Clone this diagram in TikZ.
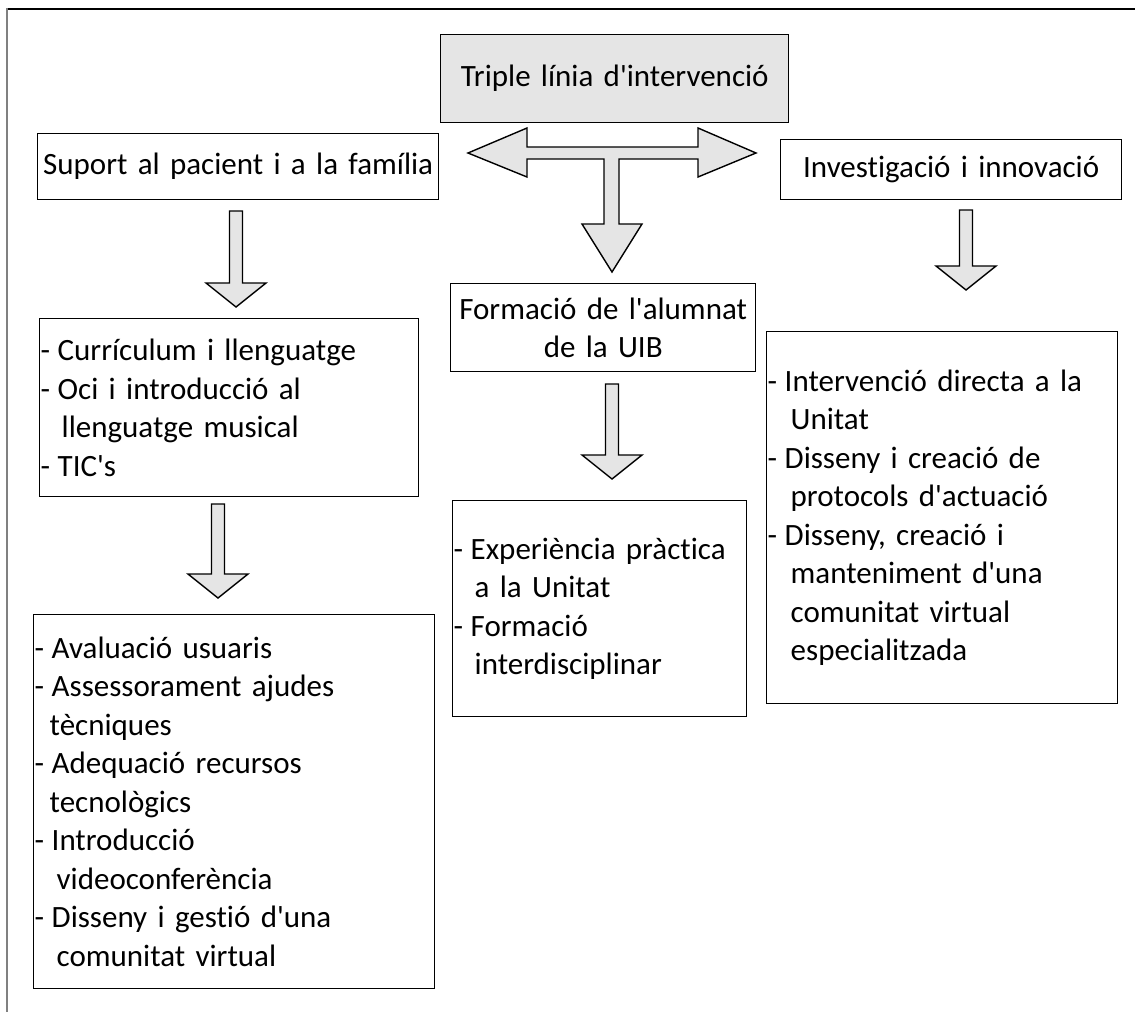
\documentclass[tikz,border=0pt]{standalone}
\usepackage{fontspec}
\setmainfont{Carlito}[Ligatures={TeXOff,NoCommon}, WordSpace=0.75]
\usetikzlibrary{calc}
\newcommand*\dash{\makebox[17pt][l]{-}}

\begin{document}
\begin{tikzpicture}[
	x=1pt, y=-1pt,
	box/.style={draw, line width=1.4pt, anchor=north west, inner xsep=1pt, inner ysep=0pt,
		align=left, font=\fontsize{31}{38.5}\selectfont},
	title/.style={box, align=center},
	arrowbody/.style={draw, line width=1.4pt, fill=gray!20, line join=miter}]

	\def\blockarrow(#1)(#2){% Syntax: (top of stem) (tip)
		\draw[arrowbody] ($(#1)+(-6.5,0)$) -- ($(#2)+(-6.5,-24)$) -- ($(#2)+(-30,-24)$) -- (#2)
			-- ($(#2)+(30,-24)$) -- ($(#2)+(6.5,-24)$) -- ($(#1)+(6.5,0)$) -- cycle; }

	\useasboundingbox (0,0) rectangle (1135,1012);
	\fill[white] (0,0) rectangle (1135,1012);

	% page frame
	\draw[line width=1.5pt] (7,9) -- (1135,9);
	\draw[gray, line width=2pt] (7,8.25) -- (7,1012);

	\node[title, fill=gray!20, text width=346pt, minimum height=88pt] (triple) at (440,34) {Triple línia d'intervenció};
	\node[title, text width=399pt, minimum height=66pt] (suport) at (37,133) {Suport al pacient i a la família};
	\node[title, text width=339pt, minimum height=60pt] (recerca) at (780,139) {Investigació i innovació};
	\node[title, text width=303pt, minimum height=88pt] (formacio) at (450,283) {Formació de l'alumnat\\de la UIB};

	\node[box, text width=377pt, minimum height=178pt] (curriculum) at (39,318) {%
		\dash Currículum i llenguatge\\
		\dash Oci i introducció al\\
		\hspace*{21pt}llenguatge musical\\
		\dash TIC's};
	\node[box, text width=399pt, minimum height=374pt] (serveis) at (33,614) {%
		\dash Avaluació usuaris\\
		\dash Assessorament ajudes\\
		\hspace*{15pt}tècniques\\
		\dash Adequació recursos\\
		\hspace*{15pt}tecnològics\\
		\dash Introducció\\
		\hspace*{22pt}videoconferència\\
		\dash Disseny i gestió d'una\\
		\hspace*{22pt}comunitat virtual};
	\node[box, text width=292pt, minimum height=216pt] (practica) at (452,500) {%
		\dash Experiència pràctica\\
		\hspace*{21pt}a la Unitat\\
		\dash Formació\\
		\hspace*{21pt}interdisciplinar};
	\node[box, text width=349pt, minimum height=372pt] (accions) at (766,331) {%
		\dash Intervenció directa a la\\
		\hspace*{23pt}Unitat\\
		\dash Disseny i creació de\\
		\hspace*{23pt}protocols d'actuació\\
		\dash Disseny, creació i\\
		\hspace*{23pt}manteniment d'una\\
		\hspace*{23pt}comunitat virtual\\
		\hspace*{23pt}especialitzada};

	% three-way arrow under the title
	\draw[arrowbody] (468,153) -- (527,128) -- (527,147) -- (698,147) -- (698,128) -- (756,153)
		-- (698,177) -- (698,159) -- (619,159) -- (619,224) -- (642,224) -- (612,272)
		-- (582,224) -- (604,224) -- (604,159) -- (527,159) -- (527,177) -- cycle;

	\coordinate (a1) at (236,211);
	\coordinate (a1tip) at (236,307);
	\coordinate (a2) at (218,504);
	\coordinate (a2tip) at (218,598);
	\coordinate (a3) at (612,384);
	\coordinate (a3tip) at (612,479);
	\coordinate (a4) at (966,210);
	\coordinate (a4tip) at (966,290);

	\blockarrow(a1)(a1tip)
	\blockarrow(a2)(a2tip)
	\blockarrow(a3)(a3tip)
	\blockarrow(a4)(a4tip)

\end{tikzpicture}
\end{document}
